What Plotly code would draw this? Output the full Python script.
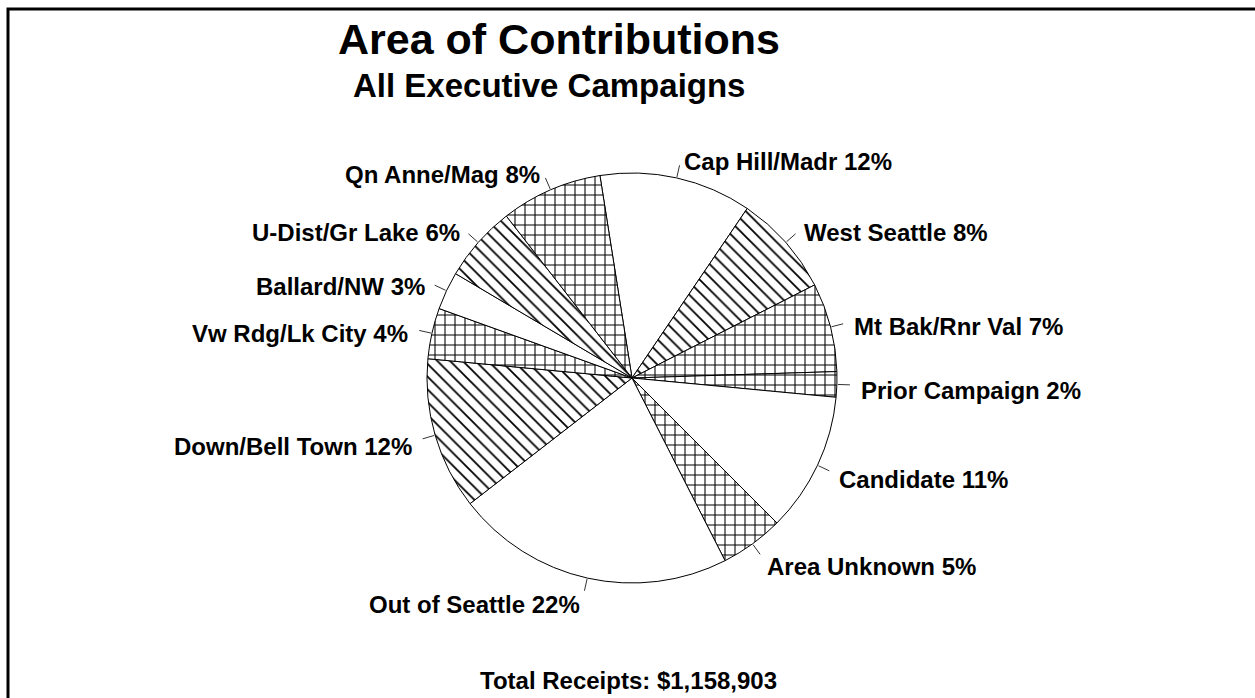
import math
import plotly.graph_objects as go

# ---- data ----
labels = ["Cap Hill/Madr", "West Seattle", "Mt Bak/Rnr Val", "Prior Campaign",
          "Candidate", "Area Unknown", "Out of Seattle", "Down/Bell Town",
          "Vw Rdg/Lk City", "Ballard/NW", "U-Dist/Gr Lake", "Qn Anne/Mag"]
percents = [12, 8, 7, 2, 11, 5, 22, 12, 4, 3, 6, 8]
patterns = ["", "\\", "+", "+", "", "+", "", "\\", "+", "", "\\", "+"]
title_text = "Area of Contributions"
subtitle_text = "All Executive Campaigns"
footer_text = "Total Receipts: $1,158,903"

# ---- geometry / style ----
W, H = 1255, 698
CX, CY, R = 632, 378, 205
ROT = -9
FONT = "Liberation Sans, Arial, sans-serif"

def px(x):
    return x / W

def py(y):
    return 1 - y / H

sizes = [9 if p == "\\" else 10 for p in patterns]

fig = go.Figure(go.Pie(
    labels=labels,
    values=percents,
    sort=False,
    direction="clockwise",
    rotation=ROT,
    textinfo="none",
    hoverinfo="label+percent",
    showlegend=False,
    domain=dict(x=[px(CX - R), px(CX + R)], y=[py(CY + R), py(CY - R)]),
    marker=dict(
        colors=["white"] * len(labels),
        line=dict(color="black", width=1),
        pattern=dict(shape=patterns, fgcolor="black", bgcolor="white",
                     size=sizes, solidity=0.2, fillmode="replace"),
    ),
))

shapes = []
annotations = []
total = sum(percents)
cum = 0
for lab, v in zip(labels, percents):
    mid = (cum + v / 2) / total * 360 + ROT
    cum += v
    a = math.radians(mid)
    sx, sy = math.sin(a), -math.cos(a)
    x0, y0 = CX + (R + 1) * sx, CY + (R + 1) * sy
    x1, y1 = CX + (R + 13) * sx, CY + (R + 13) * sy
    shapes.append(dict(type="line", xref="paper", yref="paper",
                       x0=px(x0), y0=py(y0), x1=px(x1), y1=py(y1),
                       line=dict(color="#333333", width=1)))
    lx, ly = CX + (R + 22) * sx, CY + (R + 22) * sy
    annotations.append(dict(
        x=px(lx), y=py(ly), xref="paper", yref="paper",
        text=f"{lab} {v}%", showarrow=False, yshift=-5,
        xanchor="left" if sx >= 0 else "right", yanchor="middle",
        font=dict(family=FONT, size=24, color="black", weight="bold"),
    ))

annotations += [
    dict(x=px(559), y=py(39), xref="paper", yref="paper", text=title_text,
         showarrow=False, xanchor="center", yanchor="middle",
         font=dict(family=FONT, size=43, color="black", weight="bold")),
    dict(x=px(549), y=py(86), xref="paper", yref="paper", text=subtitle_text,
         showarrow=False, xanchor="center", yanchor="middle",
         font=dict(family=FONT, size=33, color="black", weight="bold")),
    dict(x=px(628), y=py(680), xref="paper", yref="paper", text=footer_text,
         showarrow=False, xanchor="center", yanchor="middle",
         font=dict(family=FONT, size=24, color="black", weight="bold")),
]

shapes.append(dict(type="rect", xref="paper", yref="paper",
                   x0=px(8), y0=py(9), x1=px(1265), y1=py(710),
                   line=dict(color="black", width=3)))

fig.update_layout(
    width=W, height=H,
    margin=dict(l=0, r=0, t=0, b=0),
    paper_bgcolor="white", plot_bgcolor="white",
    shapes=shapes, annotations=annotations,
)

fig.write_html("out.html",
               config={"displayModeBar": False},
               post_script="document.body.style.margin='0px';"
                           "document.body.style.overflow='hidden';")
